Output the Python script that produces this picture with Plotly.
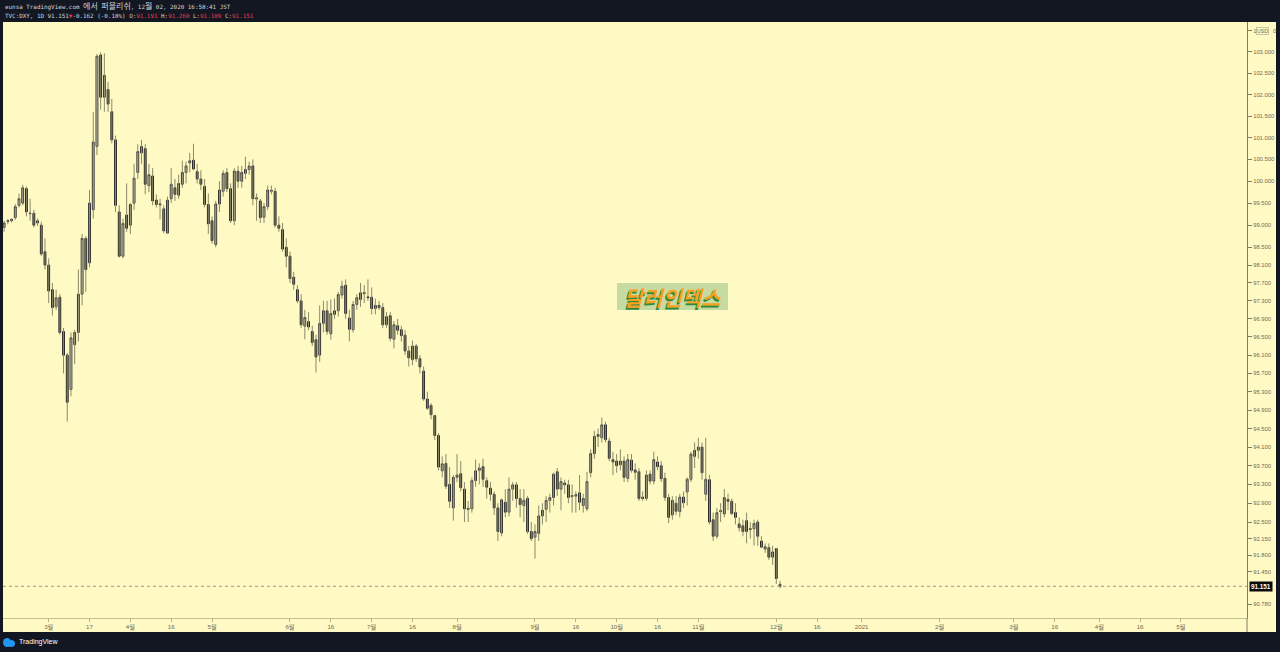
import numpy as np
import pandas as pd
import plotly.graph_objects as go

# ---------------- data (TVC:DXY daily) ----------------
opens = [
    98.95, 99.08, 99.10, 99.17, 99.45, 99.50, 99.83, 99.26, 99.27, 99.05, 99.00, 98.40,
    98.10, 97.55, 97.17, 97.38, 96.62, 96.10, 95.35, 96.33, 96.60, 97.45, 98.70, 98.15,
    99.35, 100.80, 102.93, 101.94, 102.12, 101.60, 100.95, 99.30, 98.30, 99.23,
    99.00, 99.50, 100.20, 100.65, 100.75, 99.90, 100.12, 99.57, 99.46, 99.37, 98.82, 99.60,
    99.85, 99.68, 99.93, 100.20, 100.42, 100.48, 100.22, 100.05, 99.88, 99.47,
    99.10, 98.56, 99.48, 99.77, 100.20, 99.83, 99.10, 100.23, 100.00, 100.18, 100.27,
    100.35, 99.62, 99.55, 99.18, 99.42, 99.77, 99.77, 99.00, 98.90, 98.50,
    98.30, 97.83, 97.55, 97.30, 96.74, 96.84, 96.62, 96.44, 96.10, 96.80, 97.08,
    96.57, 97.00, 97.08, 97.43, 97.65, 96.92, 96.66, 97.22, 97.33, 97.46, 97.39,
    97.38, 97.13, 97.20, 97.15, 96.77, 96.97, 96.45, 96.75, 96.66, 96.54, 96.19, 96.00,
    96.30, 96.02, 95.75, 95.14, 95.00, 94.78, 94.35, 93.59, 93.75, 93.30, 92.80,
    93.45, 93.53, 93.20, 92.79, 92.78, 93.38, 93.60, 93.68, 93.38, 93.22, 93.09,
    92.80, 92.27, 92.92, 92.71, 93.20, 93.29, 93.00, 92.85, 93.00, 92.30,
    92.18, 92.26, 92.63, 92.77, 92.96, 93.02, 93.57, 93.20, 93.33, 93.29, 93.04,
    93.05, 93.12, 92.85, 92.78, 93.55, 93.96, 94.37, 94.30, 94.58, 94.23, 93.83,
    93.80, 93.72, 93.80, 93.43, 93.82, 93.61, 93.57, 93.03, 93.00, 93.52, 93.37,
    93.78, 93.70, 93.43, 93.02, 92.65, 92.90, 92.72, 93.03, 93.14, 93.41, 93.90,
    94.03, 94.10, 93.09, 93.40, 92.55, 92.20, 92.72, 92.67, 92.98, 92.94, 92.70,
    92.46, 92.42, 92.53, 92.34, 92.36, 92.50, 92.10, 91.93, 91.96, 91.76,
    91.94, 91.191,
]
highs = [
    99.10, 99.14, 99.16, 99.48, 99.72, 99.92, 99.88, 99.60, 99.35, 99.15, 99.08, 98.70,
    98.25, 97.70, 97.55, 97.45, 96.70, 96.15, 96.60, 96.66, 98.00, 98.80, 98.75, 99.80,
    101.60, 102.95, 102.99, 102.97, 102.30, 101.90, 101.05, 99.45, 99.15, 99.95,
    99.50, 100.40, 100.85, 100.95, 100.85, 100.40, 100.30, 99.70, 99.60, 99.45, 99.65, 100.30,
    100.05, 100.15, 100.47, 100.45, 100.65, 100.86, 100.40, 100.25, 100.05, 99.72,
    99.20, 99.55, 100.00, 100.25, 100.30, 99.95, 100.30, 100.35, 100.35, 100.56, 100.45,
    100.50, 99.72, 99.60, 99.50, 99.90, 99.90, 99.85, 99.20, 99.05, 98.70,
    98.40, 97.95, 97.65, 97.45, 97.10, 97.05, 96.75, 96.55, 97.20, 97.30, 97.30,
    97.33, 97.35, 97.50, 97.75, 97.78, 97.10, 97.30, 97.45, 97.70, 97.65, 97.78,
    97.60, 97.35, 97.30, 97.25, 97.05, 97.05, 96.85, 96.90, 96.75, 96.65, 96.30, 96.42,
    96.35, 96.10, 95.85, 95.30, 95.05, 94.80, 94.40, 93.90, 93.95, 93.67, 93.50,
    93.95, 93.80, 93.35, 92.95, 93.45, 93.83, 93.75, 93.85, 93.45, 93.35, 93.15,
    92.90, 93.00, 93.20, 93.45, 93.35, 93.35, 93.20, 93.20, 93.05, 92.50,
    92.45, 92.85, 92.90, 93.05, 93.10, 93.55, 93.65, 93.45, 93.40, 93.40, 93.30,
    93.15, 93.50, 93.10, 93.57, 94.05, 94.45, 94.50, 94.74, 94.65, 94.30, 94.00,
    93.95, 94.05, 93.90, 93.95, 93.95, 93.75, 93.65, 93.15, 93.60, 93.60, 94.00,
    93.90, 93.80, 93.55, 93.10, 93.05, 93.05, 93.10, 93.15, 93.45, 94.00, 94.20,
    94.30, 94.20, 94.30, 93.50, 92.70, 92.80, 92.90, 93.20, 93.10, 93.00, 92.90,
    92.60, 92.55, 92.70, 92.50, 92.55, 92.55, 92.20, 92.05, 92.05, 92.00,
    91.95, 91.260,
]
lows = [
    98.85, 99.02, 99.06, 99.12, 99.40, 99.45, 99.20, 99.10, 98.95, 98.98, 98.30, 98.00,
    97.25, 96.97, 97.10, 96.55, 95.70, 94.65, 95.20, 95.90, 96.40, 97.20, 97.50, 98.05,
    99.15, 100.60, 101.65, 101.60, 101.60, 100.87, 99.30, 98.27, 98.25, 98.85,
    98.80, 99.35, 100.05, 100.40, 99.70, 99.75, 99.45, 99.40, 99.13, 98.82, 98.80, 99.50,
    99.55, 99.60, 99.85, 99.95, 100.20, 100.25, 99.95, 99.80, 99.40, 98.80,
    98.58, 98.50, 99.30, 99.65, 99.75, 99.05, 99.00, 99.85, 99.85, 100.05, 100.15,
    99.45, 99.10, 99.05, 99.05, 99.35, 99.70, 98.95, 98.85, 98.40, 98.05,
    97.70, 97.55, 97.25, 96.70, 96.45, 96.65, 96.30, 95.72, 95.95, 96.60, 96.55,
    96.44, 96.90, 96.95, 97.35, 96.90, 96.40, 96.60, 97.10, 97.17, 97.25, 97.30,
    97.00, 97.00, 97.10, 96.70, 96.70, 96.40, 96.25, 96.55, 96.40, 96.10, 95.85, 95.88,
    95.95, 95.70, 95.10, 94.90, 94.70, 94.25, 93.60, 93.45, 93.20, 92.80, 92.53,
    93.35, 93.15, 92.50, 92.50, 92.70, 93.25, 93.30, 93.25, 93.00, 92.95, 92.65,
    92.10, 92.20, 92.60, 92.62, 92.95, 92.80, 92.60, 92.50, 92.25, 92.10,
    91.73, 92.10, 92.45, 92.50, 92.70, 92.85, 93.05, 92.75, 93.10, 92.90, 92.70,
    92.70, 92.75, 92.70, 92.73, 93.45, 93.85, 94.10, 94.20, 94.20, 93.80, 93.50,
    93.55, 93.60, 93.35, 93.35, 93.55, 93.40, 92.95, 92.95, 92.95, 93.30, 93.30,
    93.60, 93.35, 92.95, 92.48, 92.55, 92.65, 92.60, 92.80, 92.85, 93.35, 93.65,
    93.85, 93.40, 92.95, 92.45, 92.10, 92.15, 92.50, 92.60, 92.75, 92.65, 92.45,
    92.30, 92.20, 92.05, 92.15, 92.00, 92.00, 91.95, 91.85, 91.70, 91.60,
    91.20, 91.109,
]
closes = [
    99.05, 99.10, 99.13, 99.42, 99.60, 99.85, 99.30, 99.27, 99.00, 99.10, 98.35, 98.10,
    97.52, 97.15, 97.37, 96.60, 96.10, 95.07, 96.48, 96.60, 97.45, 98.70, 98.00, 99.50,
    100.90, 102.90, 101.94, 102.45, 101.78, 100.95, 99.45, 98.30, 99.04, 98.93,
    99.47, 100.07, 100.68, 100.80, 99.93, 100.15, 99.55, 99.47, 99.48, 98.87, 99.57, 99.93,
    99.70, 99.95, 100.20, 100.35, 100.47, 100.28, 100.05, 99.93, 99.47, 99.03,
    98.65, 99.48, 99.80, 100.18, 99.83, 99.10, 100.23, 100.00, 100.20, 100.27, 100.35,
    99.60, 99.60, 99.17, 99.42, 99.80, 99.79, 99.00, 98.93, 98.46, 98.30,
    97.80, 97.67, 97.30, 96.77, 96.93, 96.72, 96.38, 96.06, 96.80, 97.08, 96.62,
    97.02, 97.08, 97.44, 97.63, 97.02, 96.67, 97.22, 97.37, 97.48, 97.48, 97.37,
    97.13, 97.20, 97.15, 96.77, 96.95, 96.47, 96.77, 96.65, 96.53, 96.19, 96.04, 96.30,
    96.02, 95.84, 95.14, 94.94, 94.80, 94.35, 93.67, 93.74, 93.26, 92.94, 93.45,
    93.50, 93.23, 92.78, 92.77, 93.38, 93.59, 93.65, 93.41, 93.24, 93.09, 92.80,
    92.30, 92.97, 92.71, 93.20, 93.29, 93.00, 92.87, 92.96, 92.30, 92.15,
    92.30, 92.63, 92.75, 92.96, 93.02, 93.52, 93.20, 93.36, 93.29, 93.02, 93.06,
    93.08, 92.92, 93.00, 93.36, 93.96, 94.33, 94.33, 94.58, 94.26, 93.86, 93.78,
    93.70, 93.80, 93.45, 93.83, 93.60, 93.56, 93.00, 93.00, 93.50, 93.37, 93.83,
    93.68, 93.42, 93.02, 92.60, 92.96, 92.73, 93.03, 92.91, 93.41, 93.95, 94.03,
    94.10, 93.55, 93.41, 92.50, 92.20, 92.70, 92.74, 93.02, 92.94, 92.68, 92.60,
    92.38, 92.30, 92.30, 92.36, 92.47, 92.20, 91.97, 91.98, 91.76, 91.87,
    91.313, 91.151,
]
dates = pd.bdate_range("2020-02-13", "2020-12-02").strftime("%Y-%m-%d").tolist()
assert len(dates) == len(opens) == len(highs) == len(lows) == len(closes)

xtick_dates = ["2020-03-02", "2020-03-17", "2020-04-01", "2020-04-16", "2020-05-01",
               "2020-06-01", "2020-06-16", "2020-07-01", "2020-07-16", "2020-08-03",
               "2020-09-01", "2020-09-16", "2020-10-01", "2020-10-16", "2020-11-02",
               "2020-12-01", "2020-12-16", "2021-01-01", "2021-02-01", "2021-03-01",
               "2021-03-16", "2021-04-01", "2021-04-16", "2021-05-03"]
xtick_labels = ["3월", "17", "4월", "16", "5월", "6월", "16", "7월", "16", "8월",
                "9월", "16", "10월", "16", "11월", "12월", "16", "2021", "2월", "3월",
                "16", "4월", "16", "5월"]
ytick_values = [103.5, 103.0, 102.5, 102.0, 101.5, 101.0, 100.5, 100.0, 99.5, 99.0, 98.5,
                98.1, 97.7, 97.3, 96.9, 96.5, 96.1, 95.7, 95.3, 94.9, 94.5, 94.1, 93.7,
                93.3, 92.9, 92.5, 92.15, 91.8, 91.45, 90.78]
# the top label (103.500) is mostly hidden behind the "USD" currency badge: only "1 … 0" shows
ytick_labels = ["1"] + [f"{v:.3f}" for v in ytick_values[1:]]

# ---------------- layout helpers ----------------
FIG_W, FIG_H = 1280, 652
L, R, T, B = 3, 1247, 22, 618
W, H = R - L, B - T
def px(x):
    return (x - L) / W
def py(y):
    return (B - y) / H

BG = "#fff9c4"
DARK = "#131722"
RED = "#f23645"
AXC = "#7d7d66"
TXT = "#6f6b55"

# x range: a little before the first bar, ~125 empty trading days after the last bar
x_left = (pd.Timestamp(dates[0]) - pd.Timedelta(hours=7.4)).strftime("%Y-%m-%d %H:%M:%S")
x_right = (pd.Timestamp(np.busday_offset(dates[0], 334)) + pd.Timedelta(hours=19.2)).strftime("%Y-%m-%d %H:%M:%S")
y_range = [np.log10(90.492), np.log10(103.709)]

fig = go.Figure()

# wicks
wx, wy = [], []
for d, h, l in zip(dates, highs, lows):
    wx += [d, d, None]
    wy += [l, h, None]
fig.add_trace(go.Scatter(x=wx, y=wy, mode="lines", line=dict(color="#8a8a6a", width=1),
                         hoverinfo="skip", showlegend=False))

# bodies
body_hi = [max(o, c) for o, c in zip(opens, closes)]
body_lo = [min(o, c) for o, c in zip(opens, closes)]
fig.add_trace(go.Candlestick(
    x=dates, open=opens, high=body_hi, low=body_lo, close=closes,
    increasing=dict(fillcolor="#ffffff", line=dict(color="#2b2b2b", width=1)),
    decreasing=dict(fillcolor="#262626", line=dict(color="#262626", width=1)),
    showlegend=False, hoverinfo="skip",
))

# last price dotted line
last = closes[-1]
fig.add_trace(go.Scatter(x=[x_left, x_right], y=[last, last], mode="lines",
                         line=dict(color="#9a9a8a", width=1, dash="dot"),
                         hoverinfo="skip", showlegend=False))

shapes = [
    # dark frame
    dict(type="rect", xref="paper", yref="paper", x0=px(0), x1=px(FIG_W), y0=py(T), y1=py(0),
         fillcolor=DARK, line=dict(width=0), layer="below"),
    dict(type="rect", xref="paper", yref="paper", x0=px(0), x1=px(FIG_W), y0=py(FIG_H), y1=py(632),
         fillcolor=DARK, line=dict(width=0), layer="below"),
    dict(type="rect", xref="paper", yref="paper", x0=px(0), x1=px(3), y0=py(632), y1=py(T),
         fillcolor=DARK, line=dict(width=0), layer="below"),
    dict(type="rect", xref="paper", yref="paper", x0=px(1276), x1=px(FIG_W), y0=py(632), y1=py(T),
         fillcolor=DARK, line=dict(width=0), layer="below"),
    # price-axis line continuing through the time-axis strip
    dict(type="line", xref="paper", yref="paper", x0=1, x1=1, y0=py(632), y1=py(B),
         line=dict(color=AXC, width=1)),
    # text box
    dict(type="rect", xref="paper", yref="paper", x0=px(617), x1=px(728), y0=py(310), y1=py(283),
         fillcolor="#c6dba2", line=dict(width=0), layer="above"),
    # TradingView logo (simple cloud)
    dict(type="circle", xref="paper", yref="paper", x0=px(3), x1=px(11), y0=py(647), y1=py(638),
         fillcolor="#2196f3", line=dict(width=0)),
    dict(type="circle", xref="paper", yref="paper", x0=px(7), x1=px(15), y0=py(647), y1=py(640),
         fillcolor="#2196f3", line=dict(width=0)),
]

chg = closes[-1] - closes[-2]
pct = chg / closes[-2] * 100
line2 = (f"TVC:DXY, 1D {last:.3f}<span style='color:{RED}'>▼</span>{chg:.3f} ({pct:.2f}%) "
         f"O:<span style='color:{RED}'>{opens[-1]:.3f}</span> "
         f"H:<span style='color:{RED}'>{highs[-1]:.3f}</span> "
         f"L:<span style='color:{RED}'>{lows[-1]:.3f}</span> "
         f"C:<span style='color:{RED}'>{closes[-1]:.3f}</span>")
KO = "<span style='font-size:8px'>{}</span>"
line1 = ("eunsa TradingView.com " + KO.format("에서") + " " + KO.format("퍼블리쉬") +
         ", 12" + KO.format("월") + " 02, 2020 16:58:41 JST")

HDR_FONT = dict(family="DejaVu Sans Mono, Noto Sans CJK KR", size=5.9, color="#d1d4dc")
SMALL = dict(family="Liberation Sans", size=5.8, color=TXT)
annotations = [
    dict(text=line1, xref="paper", yref="paper",
         x=px(3), y=py(6), xanchor="left", yanchor="middle", showarrow=False, font=HDR_FONT),
    dict(text=line2, xref="paper", yref="paper",
         x=px(3), y=py(16), xanchor="left", yanchor="middle", showarrow=False, font=HDR_FONT),
    dict(text="TradingView", xref="paper", yref="paper", x=px(17), y=py(642), xanchor="left",
         yanchor="middle", showarrow=False,
         font=dict(family="Liberation Sans", size=7, color="#ffffff")),
    dict(text="달러인덱스", xref="paper", yref="paper", x=px(672.5), y=py(296.5),
         xanchor="center", yanchor="middle", showarrow=False,
         font=dict(family="Noto Sans CJK KR", size=21, color="#f6a21e", weight="bold",
                   style="italic", shadow="-1.5px 1.5px 0px #2f8a3c")),
    dict(text=f"{last:.3f}", xref="paper", yref="y", x=px(1249), y=np.log10(last),
         xanchor="left", yanchor="middle", showarrow=False, bgcolor="#0b0b0b", borderpad=1,
         font=dict(family="Liberation Sans", size=6.3, color="#ffffff", weight="bold")),
    dict(text="USD", xref="paper", yref="y", x=px(1262.5), y=np.log10(103.5),
         xanchor="center", yanchor="middle", showarrow=False, bgcolor=BG, bordercolor="#c8c4a0",
         borderwidth=1, borderpad=0, font=dict(family="Liberation Sans", size=5.3, color=TXT)),
    dict(text="0", xref="paper", yref="y", x=px(1270.5), y=np.log10(103.5),
         xanchor="left", yanchor="middle", showarrow=False, font=SMALL),
]

TICK_FONT_X = dict(family="Liberation Sans, Noto Sans CJK KR", size=6.2, color=TXT)
TICK_FONT_Y = dict(family="Liberation Sans", size=5.8, color=TXT)
fig.update_layout(
    width=FIG_W, height=FIG_H, autosize=False,
    margin=dict(l=L, r=FIG_W - R, t=T, b=FIG_H - B, pad=0),
    paper_bgcolor=BG, plot_bgcolor=BG,
    showlegend=False, hovermode=False,
    shapes=shapes, annotations=annotations,
    xaxis=dict(type="date", range=[x_left, x_right],
               rangebreaks=[dict(bounds=["sat", "mon"])],
               rangeslider=dict(visible=False),
               tickmode="array", tickvals=xtick_dates, ticktext=xtick_labels,
               ticks="outside", ticklen=3, tickcolor="#b8b390", tickwidth=1,
               showline=True, linecolor="#c4bf96", linewidth=1,
               showgrid=False, zeroline=False, tickfont=TICK_FONT_X, fixedrange=True),
    yaxis=dict(type="log", range=y_range, side="right",
               tickmode="array", tickvals=ytick_values, ticktext=ytick_labels,
               ticks="outside", ticklen=4, tickcolor=AXC, tickwidth=1,
               showline=True, linecolor=AXC, linewidth=1, mirror=False,
               showgrid=False, zeroline=False, tickfont=TICK_FONT_Y, fixedrange=True),
)

fig.write_html("out.html", config={"displayModeBar": False, "staticPlot": True},
               post_script="document.body.style.margin='0';document.body.style.overflow='hidden';")
